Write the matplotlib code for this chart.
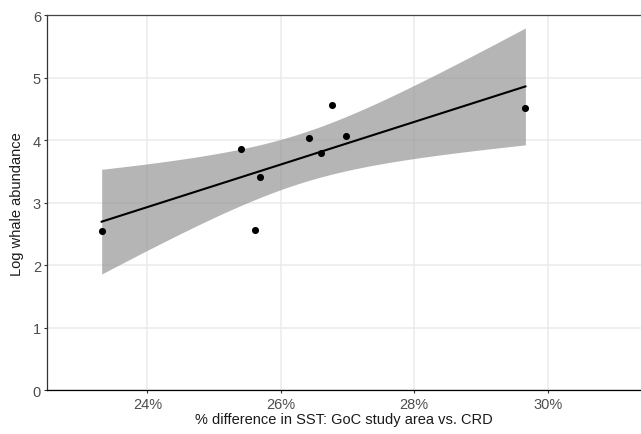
import matplotlib
matplotlib.use("Agg")
import matplotlib.pyplot as plt
import numpy as np

# % difference in SST (GoC study area vs. CRD) and log whale abundance
sst_diff = [23.315, 25.398, 25.607, 25.688, 26.416, 26.607, 26.772, 26.981, 29.667]
log_abund = [2.544, 3.861, 2.560, 3.403, 4.037, 3.787, 4.560, 4.059, 4.512]

x_ticks = [24, 26, 28, 30]
x_labels = ["24%", "26%", "28%", "30%"]
y_ticks = [0, 1, 2, 3, 4, 5, 6]

T_975_DF7 = 2.364624  # t quantile for 95% CI, n - 2 = 7 df


def lm_band(x, y, n_grid=80):
    x = np.asarray(x, float)
    y = np.asarray(y, float)
    n = len(x)
    slope, intercept = np.polyfit(x, y, 1)
    resid = y - (intercept + slope * x)
    s = np.sqrt(np.sum(resid ** 2) / (n - 2))
    sxx = np.sum((x - x.mean()) ** 2)
    grid = np.linspace(x.min(), x.max(), n_grid)
    fit = intercept + slope * grid
    se = s * np.sqrt(1 / n + (grid - x.mean()) ** 2 / sxx)
    return grid, fit, fit - T_975_DF7 * se, fit + T_975_DF7 * se


plt.rcParams["font.family"] = ["Liberation Sans", "DejaVu Sans"]

fig = plt.figure(figsize=(6.41, 4.35), dpi=100)
ax = fig.add_axes([47.3 / 641, 1 - 391.3 / 435, 1 - 47.3 / 641, (391.3 - 16) / 435])

grid, fit, lo, hi = lm_band(sst_diff, log_abund)

ax.grid(True, color="#ebebeb", linewidth=1.1, zorder=0)
ax.set_axisbelow(True)
ax.fill_between(grid, lo, hi, color="#939393", alpha=0.68, linewidth=0, zorder=2)
ax.plot(grid, fit, color="black", linewidth=1.5, zorder=3)
ax.scatter(sst_diff, log_abund, s=26, color="black", zorder=4, linewidths=0)

ax.set_xlim(22.5, 31.4)
ax.set_ylim(0, 6)
ax.set_xticks(x_ticks)
ax.set_xticklabels(x_labels)
ax.set_yticks(y_ticks)

ax.spines["right"].set_visible(False)
ax.spines["top"].set_color("#444444")
ax.spines["left"].set_color("#333333")
ax.spines["bottom"].set_color("black")
for sp in ax.spines.values():
    sp.set_linewidth(0.9)

ax.tick_params(axis="both", length=2.5, width=0.8, color="#333333",
               labelsize=10.5, labelcolor="#4d4d4d", pad=2)

ax.set_xlabel("% difference in SST: GoC study area vs. CRD", fontsize=10.5, color="#1a1a1a", labelpad=1)
ax.set_ylabel("Log whale abundance", fontsize=10.5, color="#1a1a1a", labelpad=6)

fig.savefig("out.png", dpi=100)
